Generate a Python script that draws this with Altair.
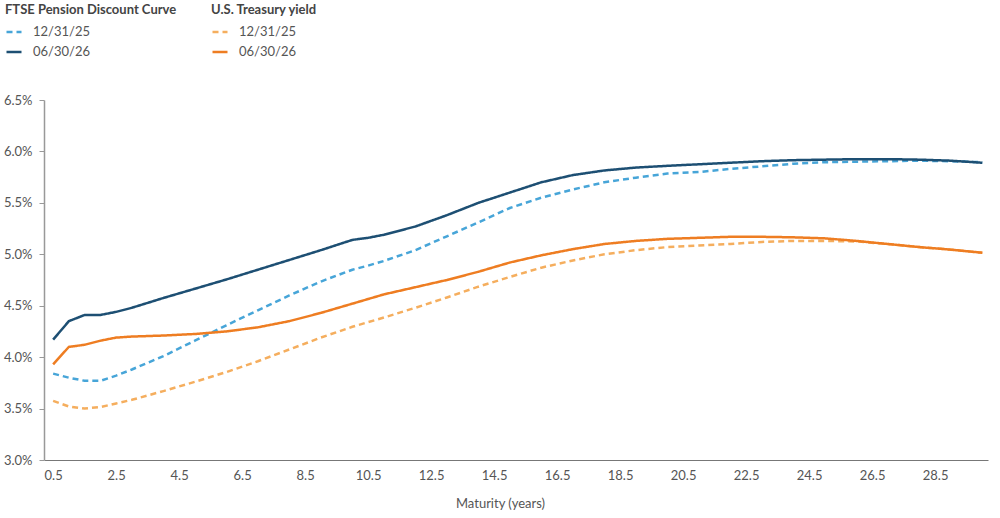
import altair as alt
import pandas as pd

# Maturity points (years)
maturity = [0.5, 1, 1.5, 2, 2.5, 3, 4, 5, 6, 7, 8, 9, 10, 10.5, 11, 12, 13, 14, 15,
            16, 17, 18, 19, 20, 21, 22, 23, 24, 25, 26, 27, 28, 29, 30]

# FTSE Pension Discount Curve (%)
ftse_dec25 = [3.84, 3.80, 3.77, 3.77, 3.82, 3.88, 4.01, 4.16, 4.31, 4.455, 4.60, 4.735,
              4.85, 4.89, 4.935, 5.04, 5.175, 5.31, 5.45, 5.55, 5.63, 5.70, 5.745, 5.785,
              5.80, 5.83, 5.855, 5.88, 5.895, 5.90, 5.905, 5.91, 5.905, 5.895]
ftse_jun26 = [4.17, 4.35, 4.41, 4.41, 4.44, 4.48, 4.575, 4.665, 4.755, 4.85, 4.945, 5.04,
              5.14, 5.16, 5.19, 5.27, 5.38, 5.50, 5.60, 5.70, 5.77, 5.815, 5.843, 5.86,
              5.875, 5.89, 5.905, 5.915, 5.92, 5.925, 5.925, 5.92, 5.91, 5.89]

# U.S. Treasury yield (%)
ust_dec25 = [3.575, 3.52, 3.50, 3.515, 3.55, 3.585, 3.67, 3.76, 3.855, 3.96, 4.075, 4.19,
             4.295, 4.34, 4.385, 4.48, 4.58, 4.685, 4.78, 4.87, 4.94, 5.00, 5.04, 5.07,
             5.085, 5.10, 5.12, 5.13, 5.13, 5.125, 5.10, 5.07, 5.045, 5.015]
ust_jun26 = [3.93, 4.10, 4.12, 4.16, 4.19, 4.20, 4.21, 4.225, 4.25, 4.29, 4.35, 4.43,
             4.52, 4.565, 4.61, 4.68, 4.75, 4.83, 4.92, 4.99, 5.05, 5.10, 5.13, 5.15,
             5.16, 5.17, 5.17, 5.165, 5.155, 5.13, 5.10, 5.07, 5.045, 5.015]

dates = ["12/31/25", "06/30/26"]
x_ticks = [0.5, 2.5, 4.5, 6.5, 8.5, 10.5, 12.5, 14.5, 16.5, 18.5, 20.5, 22.5, 24.5, 26.5, 28.5]
y_ticks = [0.030, 0.035, 0.040, 0.045, 0.050, 0.055, 0.060, 0.065]


def long_table(series_by_date):
    rows = []
    for d, vals in series_by_date.items():
        for m, v in zip(maturity, vals):
            rows.append({"maturity": m, "rate": v / 100, "date": d})
    return pd.DataFrame(rows)


ftse_df = long_table({dates[0]: ftse_dec25, dates[1]: ftse_jun26})
ust_df = long_table({dates[0]: ust_dec25, dates[1]: ust_jun26})

FONT = "Lato"

x_enc = alt.X(
    "maturity:Q",
    scale=alt.Scale(domain=[0.21, 30.18], nice=False, zero=False),
    axis=alt.Axis(
        values=x_ticks, format=".1f", title="Maturity (years)",
        ticks=False, grid=False, domainColor="#777", domainWidth=1,
        labelPadding=9, labelFontSize=13, labelColor="#555", labelFont=FONT,
        titleFontSize=13, titleColor="#555", titleFont=FONT, titleFontWeight="normal",
        titleX=456, titleY=43, titleBaseline="middle", titleAnchor="start", titleAlign="center",
    ),
)
y_enc = alt.Y(
    "rate:Q",
    scale=alt.Scale(domain=[0.03, 0.065], nice=False, zero=False),
    axis=alt.Axis(
        values=y_ticks, format=".1%", title=None, grid=False,
        domainColor="#999", domainWidth=1.5, tickColor="#999", tickSize=5,
        labelPadding=7, labelFontSize=13, labelColor="#555", labelFont=FONT,
    ),
)

dash_range = [[6, 4], [1, 0]]


def legend(title, lx):
    return alt.Legend(
        title=title, orient="none", legendX=lx, legendY=-96,
        symbolType="stroke", symbolSize=225, symbolStrokeWidth=2.5,
        labelFontSize=13, labelColor="#555", labelFont=FONT, labelOffset=10,
        titleFontSize=13, titleColor="#444", titleFont=FONT, titleFontWeight="bold",
        titlePadding=6, rowPadding=4, titleLimit=300,
    )


ftse = alt.Chart(ftse_df).mark_line(strokeWidth=2.5).encode(
    x=x_enc,
    y=y_enc,
    color=alt.Color("date:N", sort=dates,
                    scale=alt.Scale(domain=dates, range=["#47a5d8", "#1d4f73"]),
                    legend=legend("FTSE Pension Discount Curve", -39)),
    strokeDash=alt.StrokeDash("date:N", sort=dates,
                              scale=alt.Scale(domain=dates, range=dash_range),
                              legend=legend("FTSE Pension Discount Curve", -39)),
    detail="date:N",
)

ust = alt.Chart(ust_df).mark_line(strokeWidth=2.5).encode(
    x=x_enc,
    y=y_enc,
    color=alt.Color("date:N", sort=dates,
                    scale=alt.Scale(domain=dates, range=["#f5ae5e", "#ee7d22"]),
                    legend=legend("U.S. Treasury yield", 167)),
    strokeDash=alt.StrokeDash("date:N", sort=dates,
                              scale=alt.Scale(domain=dates, range=dash_range),
                              legend=legend("U.S. Treasury yield", 167)),
    detail="date:N",
)

chart = (
    alt.layer(ftse, ust)
    .resolve_scale(color="independent", strokeDash="independent")
    .properties(
        width=944, height=360, autosize="none",
        padding={"left": 44, "top": 100, "right": 12, "bottom": 58},
        background="white",
    )
    .configure_view(strokeWidth=0)
)

chart.save("out.html", embed_options={"renderer": "svg", "actions": False})
